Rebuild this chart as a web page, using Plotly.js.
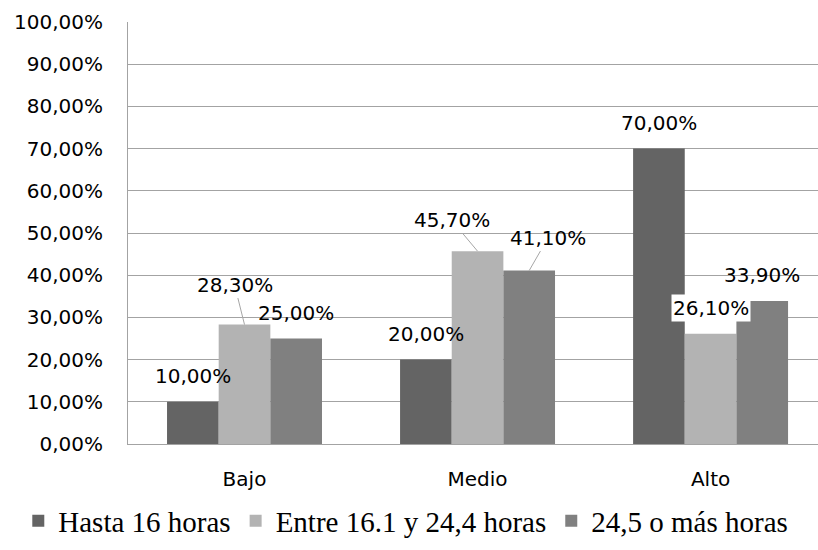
<!DOCTYPE html>
<html>
<head>
<meta charset="utf-8">
<script src="https://cdn.plot.ly/plotly-3.0.1.min.js"></script>
<style>html,body{margin:0;padding:0;background:#fff;}#chart{width:818px;height:550px;}</style>
</head>
<body>
<div id="chart"></div>
<script>
// ---- data ----
const categories = ['Bajo', 'Medio', 'Alto'];
const seriesNames = ['Hasta 16 horas', 'Entre 16.1 y 24,4 horas', '24,5 o más horas'];
const hasta16 = [0.10, 0.20, 0.70];
const entre16y24 = [0.283, 0.457, 0.261];
const mas245 = [0.25, 0.411, 0.339];
const yTickValues = [0, 0.1, 0.2, 0.3, 0.4, 0.5, 0.6, 0.7, 0.8, 0.9, 1.0];

// ---- style ----
const colors = ['#646464', '#b3b3b3', '#808080'];
const sans = 'DejaVu Sans, sans-serif';
const serif = 'Liberation Serif, serif';
const gridColor = '#a3a3a3';
const bargap = 0.335;

const series = [hasta16, entre16y24, mas245];
const catIdx = categories.map((c, i) => i);

const traces = series.map((vals, j) => ({
  type: 'bar',
  x: catIdx,
  y: vals,
  name: seriesNames[j],
  marker: {color: colors[j], line: {width: 0}},
  hoverinfo: 'skip'
}));

function fmt(v) {
  return (v * 100).toFixed(2).replace('.', ',') + '%';
}

// label placement (pixel offsets from bar top) for labels with leader lines
const leader = {
  '1-0': [-10, -40],
  '1-1': [-26, -31],
  '2-1': [19, -33]
};
const whiteBg = {'1-2': true};

const groupW = 1 - bargap;
const annotations = [];
series.forEach((vals, j) => {
  vals.forEach((v, i) => {
    const key = j + '-' + i;
    const xc = i + (j - 1) * groupW / 3;
    const base = {
      x: xc, y: v, xref: 'x', yref: 'y',
      text: fmt(v),
      font: {family: sans, size: 20, color: '#000'},
      xanchor: 'center', yanchor: 'middle'
    };
    if (leader[key]) {
      Object.assign(base, {
        showarrow: true, arrowhead: 0, arrowwidth: 1, arrowcolor: '#a6a6a6',
        axref: 'pixel', ayref: 'pixel',
        ax: leader[key][0], ay: leader[key][1], standoff: 0, borderpad: 1
      });
    } else {
      Object.assign(base, {showarrow: false, yshift: 26});
      if (whiteBg[key]) { base.bgcolor = '#ffffff'; }
    }
    annotations.push(base);
  });
});

const layout = {
  width: 818, height: 550,
  margin: {l: 128, r: 0, t: 22, b: 106},
  paper_bgcolor: '#fff', plot_bgcolor: '#fff',
  separators: ',.',
  barmode: 'group', bargap: bargap, bargroupgap: 0,
  showlegend: true,
  legend: {
    orientation: 'h', x: -0.159, xanchor: 'left', y: -0.182, yanchor: 'middle',
    font: {family: serif, size: 29, color: '#000'},
    traceorder: 'normal'
  },
  xaxis: {
    type: 'linear',
    range: [-0.5, 2.461],
    tickmode: 'array', tickvals: catIdx, ticktext: categories,
    showgrid: false, zeroline: false,
    showline: true, linecolor: gridColor, linewidth: 1,
    ticks: '', ticklabelstandoff: 17,
    tickfont: {family: sans, size: 20, color: '#000'},
    fixedrange: true
  },
  yaxis: {
    range: [0, 1],
    tickmode: 'array', tickvals: yTickValues,
    tickformat: '.2%',
    showgrid: true, gridcolor: gridColor, gridwidth: 1,
    zeroline: true, zerolinecolor: gridColor, zerolinewidth: 1,
    showline: true, linecolor: gridColor, linewidth: 1,
    ticks: '', ticklabelstandoff: 20,
    tickfont: {family: sans, size: 20, color: '#000'},
    fixedrange: true
  },
  annotations: annotations
};

Plotly.newPlot('chart', traces, layout, {displayModeBar: false, staticPlot: true});
</script>
</body>
</html>
